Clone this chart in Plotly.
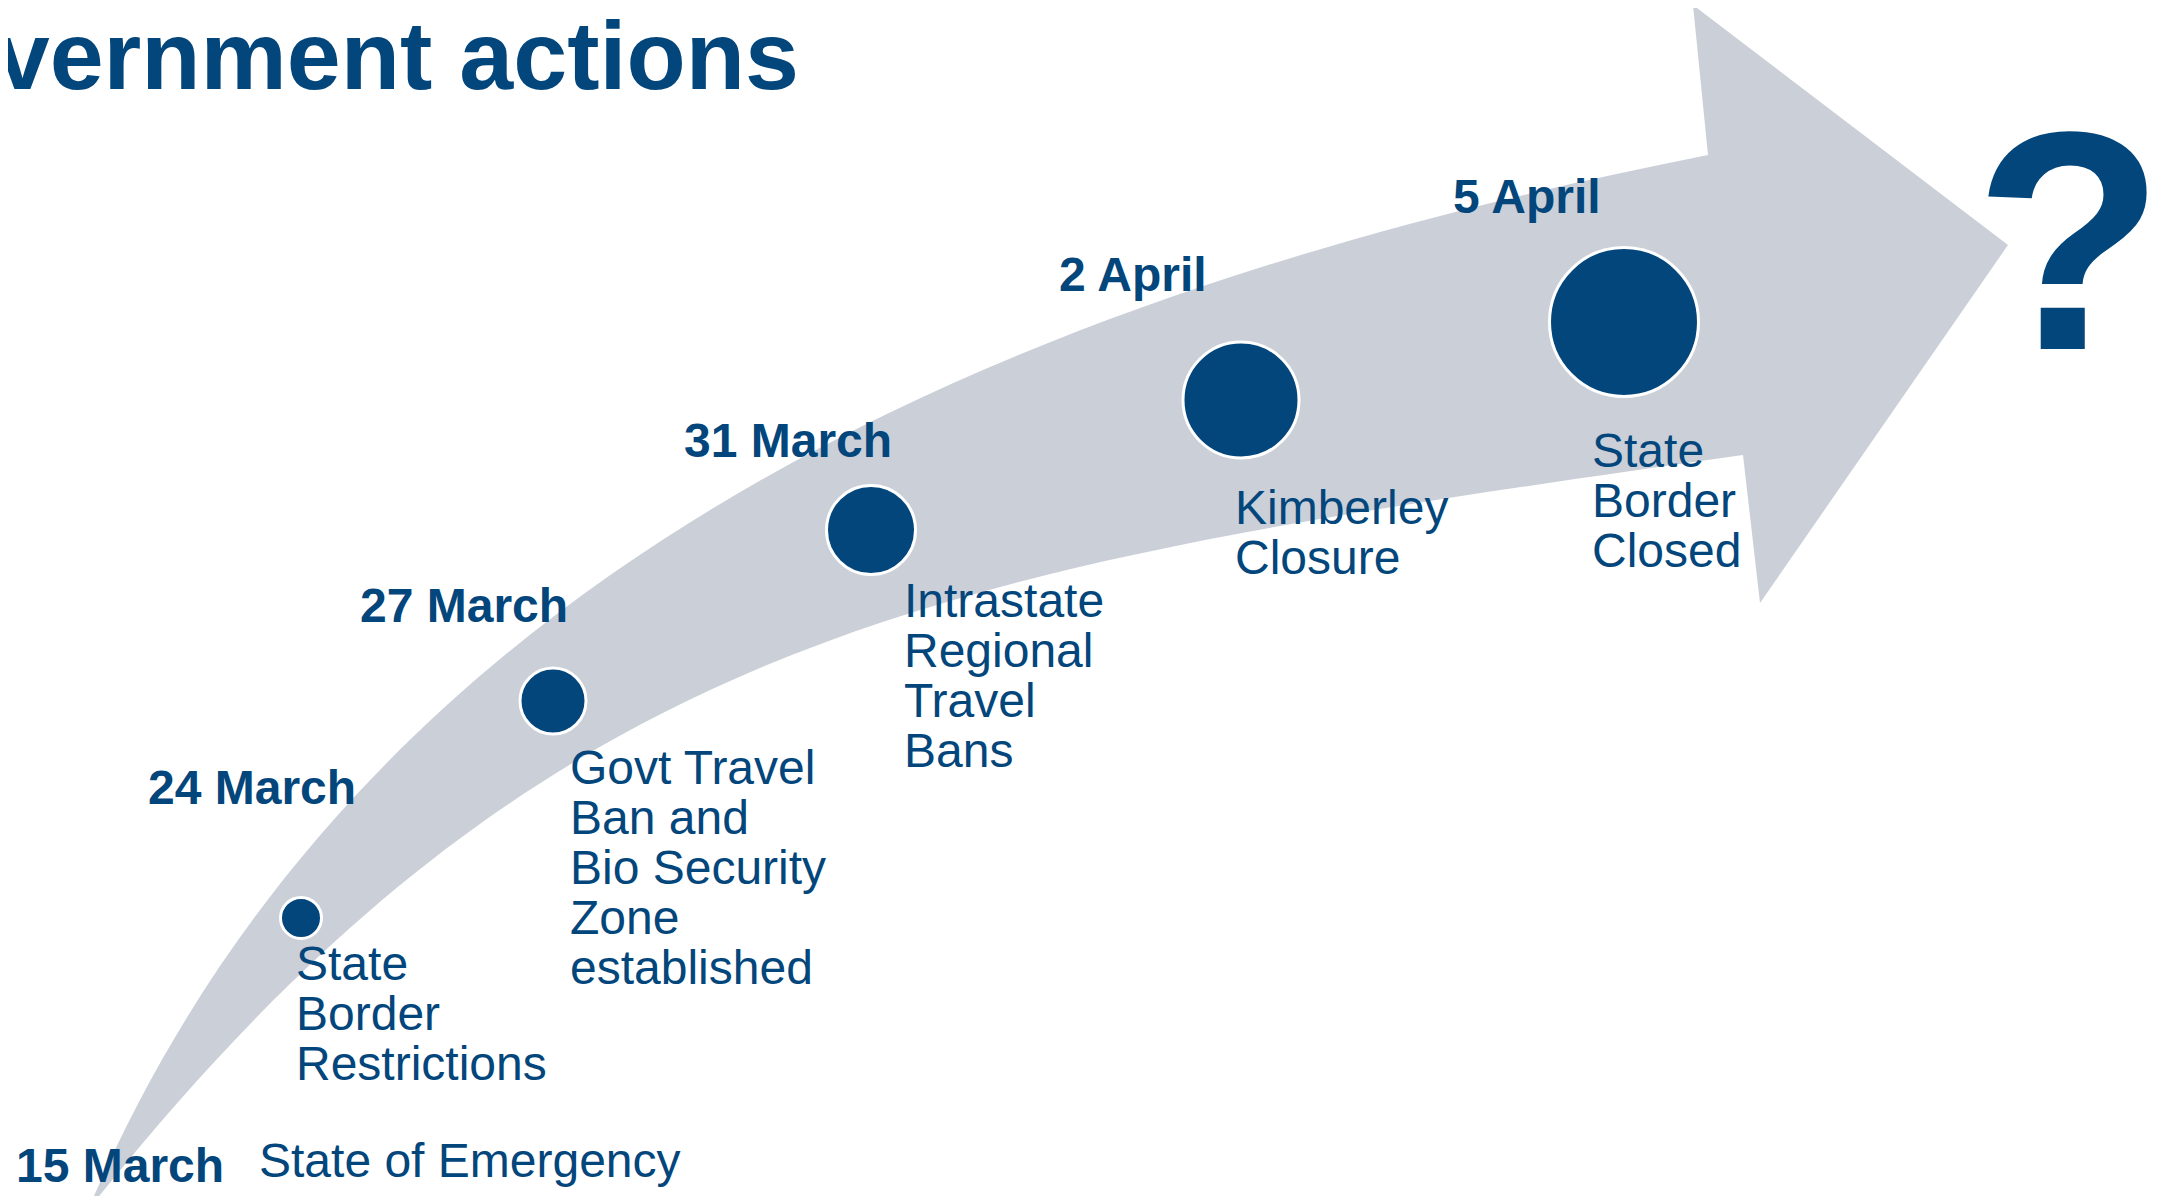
import plotly.graph_objects as go

# ---------------- data ----------------
title_text = "Government actions"
dates = ["15 March", "24 March", "27 March", "31 March", "2 April", "5 April"]
actions = [
    ["State of Emergency"],
    ["State", "Border", "Restrictions"],
    ["Govt Travel", "Ban and", "Bio Security", "Zone", "established"],
    ["Intrastate", "Regional", "Travel", "Bans"],
    ["Kimberley", "Closure"],
    ["State", "Border", "Closed"],
]
# milestone circles (the first event, 15 March, has no circle)
circle_x = [301, 553, 871, 1241, 1624]
circle_y = [918, 701, 530, 400, 322]
circle_size = [41, 66, 89, 116, 149]

# label anchors on the slide canvas
date_x = [14, 146, 358, 682, 1057, 1451]
date_y = [1165, 787, 605, 440, 274, 196]
action_x = [257, 294, 568, 902, 1233, 1590]
action_y = [1160, 963, 767, 600, 507, 450]

# curved arrow outline (control points of the two Bezier edges + head)
upper_edge = [(88, 1210), (351, 588), (972, 300), (1708, 155)]
arrow_head = [(1693, 5), (2008, 245), (1760, 603), (1743, 455)]
lower_edge = [(951, 568), (554, 622), (88, 1210)]

W, H = 2161, 1204
PAGE_MARGIN = 8  # default body margin of the html page
DARK = "#03467C"
ARROW = "#CBCFD8"
FONT = "Liberation Sans, Arial, sans-serif"
LINE_STEP = 50

fig = go.Figure()

# arrow path
p = upper_edge
path = f"M {p[0][0]},{p[0][1]} C {p[1][0]},{p[1][1]} {p[2][0]},{p[2][1]} {p[3][0]},{p[3][1]}"
for hx, hy in arrow_head:
    path += f" L {hx},{hy}"
q = lower_edge
path += f" C {q[0][0]},{q[0][1]} {q[1][0]},{q[1][1]} {q[2][0]},{q[2][1]} Z"
fig.add_shape(type="path", path=path, xref="x", yref="y",
              fillcolor=ARROW, line=dict(width=0), layer="below")

# circles
fig.add_trace(go.Scatter(
    x=circle_x, y=circle_y, mode="markers",
    marker=dict(size=circle_size, color=DARK, opacity=1,
                line=dict(color="white", width=3)),
    hoverinfo="skip", showlegend=False, cliponaxis=False,
))

annotations = []
# title
annotations.append(dict(
    x=801, y=55, xref="x", yref="y", xanchor="right", yanchor="middle",
    text=f"<b>{title_text}</b>", showarrow=False,
    font=dict(family=FONT, size=97, color=DARK),
))
# dates
for d, x, y in zip(dates, date_x, date_y):
    annotations.append(dict(
        x=x, y=y, xref="x", yref="y", xanchor="left", yanchor="middle",
        text=f"<b>{d}</b>", showarrow=False,
        font=dict(family=FONT, size=48, color=DARK),
    ))
# action descriptions, one line each
for lines, x, y in zip(actions, action_x, action_y):
    for i, line in enumerate(lines):
        annotations.append(dict(
            x=x, y=y + i * LINE_STEP, xref="x", yref="y",
            xanchor="left", yanchor="middle",
            text=line, showarrow=False,
            font=dict(family=FONT, size=48, color=DARK),
        ))
# question mark
annotations.append(dict(
    x=2069, y=241, xref="x", yref="y", xanchor="center", yanchor="middle",
    text="<b>?</b>", showarrow=False,
    font=dict(family=FONT, size=312, color=DARK),
))

fig.update_layout(
    width=W - 2 * PAGE_MARGIN, height=H - 2 * PAGE_MARGIN,
    margin=dict(l=0, r=0, t=0, b=0),
    paper_bgcolor="white", plot_bgcolor="white",
    showlegend=False,
    annotations=annotations,
    xaxis=dict(range=[PAGE_MARGIN, W - PAGE_MARGIN], visible=False, fixedrange=True),
    yaxis=dict(range=[H - PAGE_MARGIN, PAGE_MARGIN], visible=False, fixedrange=True),
)

fig.write_html("out.html", config={"displayModeBar": False})
